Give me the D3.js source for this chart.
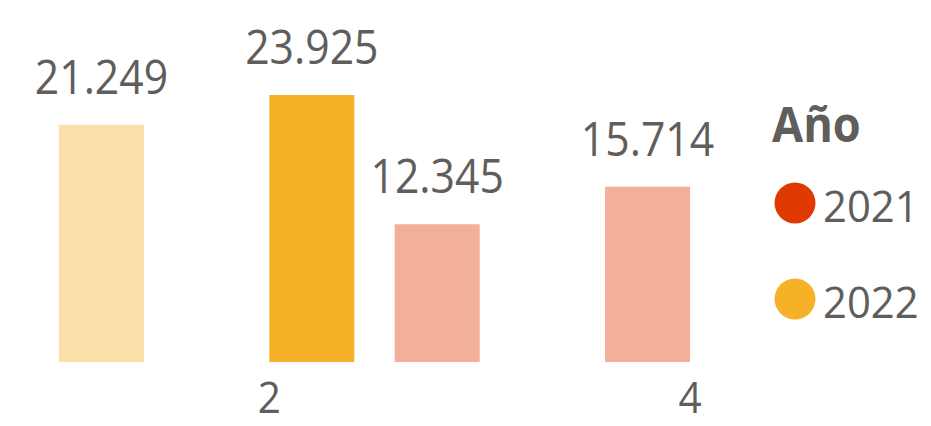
<!DOCTYPE html>
<html>
<head>
<meta charset="utf-8">
<script src="https://cdn.jsdelivr.net/npm/d3@7"></script>
<style>
  html, body { margin: 0; padding: 0; background: #ffffff; }
  svg { display: block; }
</style>
</head>
<body>
<svg id="chart" width="931" height="426"></svg>
<script>
// ---- data ----
const categories = [1, 2, 3, 4];
const seriesNames = ["2021", "2022"];
const values2021 = [null, null, 12.345, 15.714];
const values2022 = [21.249, 23.925, null, null];
const highlighted = [[false, false, false, false], [false, true, false, false]];
const tickLabels = [2, 4];
const legendTitle = "Año";
const seriesColors = ["#E03A00", "#F6B128"];

// ---- layout ----
const W = 931, H = 426;
const baseline = 362;
const textColor = "#605E5C";
const fontFamily = "'Open Sans', 'Noto Sans', sans-serif";

const svg = d3.select("#chart");

const x = d3.scaleBand()
  .domain(categories)
  .range([-46.2, 795.2])
  .paddingInner(0.192)
  .paddingOuter(0.096);

const xSub = d3.scaleBand()
  .domain(seriesNames)
  .range([0, x.bandwidth()])
  .padding(0);

const y = d3.scaleLinear()
  .domain([0, 32.44])
  .range([baseline, 0]);

const seriesValues = [values2021, values2022];

const bars = [];
seriesValues.forEach((vals, si) => {
  vals.forEach((v, ci) => {
    if (v != null) bars.push({ cat: categories[ci], series: seriesNames[si], si, v, hi: highlighted[si][ci] });
  });
});

function squeezeText(factor) {
  return sel => sel.each(function () {
    const len = this.getComputedTextLength();
    d3.select(this).attr("textLength", len * factor).attr("lengthAdjust", "spacingAndGlyphs");
  });
}

const g = svg.append("g");
g.selectAll("rect.bar")
  .data(bars)
  .join("rect")
  .attr("class", "bar")
  .attr("x", d => x(d.cat) + xSub(d.series))
  .attr("width", xSub.bandwidth())
  .attr("y", d => y(d.v))
  .attr("height", d => baseline - y(d.v))
  .attr("fill", d => seriesColors[d.si])
  .attr("fill-opacity", d => d.hi ? 1 : 0.4);

g.selectAll("text.lbl")
  .data(bars)
  .join("text")
  .attr("class", "lbl")
  .attr("x", d => x(d.cat) + xSub(d.series) + xSub.bandwidth() / 2)
  .attr("y", d => y(d.v) - 31)
  .attr("text-anchor", "middle")
  .attr("font-family", fontFamily)
  .attr("font-size", 48)
  .attr("fill", textColor)
  .text(d => d.v.toFixed(3))
  .call(squeezeText(0.89));

// x axis (labels only)
const xAxis = d3.axisBottom(x).tickValues(tickLabels).tickSize(0).tickPadding(0);
const axisG = svg.append("g")
  .attr("transform", `translate(0,${baseline})`)
  .call(xAxis);
axisG.select(".domain").remove();
axisG.selectAll("text")
  .attr("dy", 0)
  .attr("y", 51)
  .attr("font-family", fontFamily)
  .attr("font-size", 44)
  .attr("fill", textColor)
  .call(squeezeText(0.92));

// legend
const leg = svg.append("g");
leg.append("text")
  .attr("x", 772)
  .attr("y", 142)
  .attr("font-family", fontFamily)
  .attr("font-weight", "bold")
  .attr("font-size", 48)
  .attr("fill", textColor)
  .text(legendTitle)
  .call(squeezeText(0.94));

const items = leg.selectAll("g.item")
  .data(seriesNames)
  .join("g")
  .attr("class", "item")
  .attr("transform", (d, i) => `translate(0,${203 + i * 96})`);
items.append("circle")
  .attr("cx", 795)
  .attr("cy", 0)
  .attr("r", 20.5)
  .attr("fill", (d, i) => seriesColors[i]);
items.append("text")
  .attr("x", 823)
  .attr("y", 19)
  .attr("font-family", fontFamily)
  .attr("font-size", 44)
  .attr("fill", textColor)
  .text(d => d)
  .call(squeezeText(0.95));
</script>
</body>
</html>
